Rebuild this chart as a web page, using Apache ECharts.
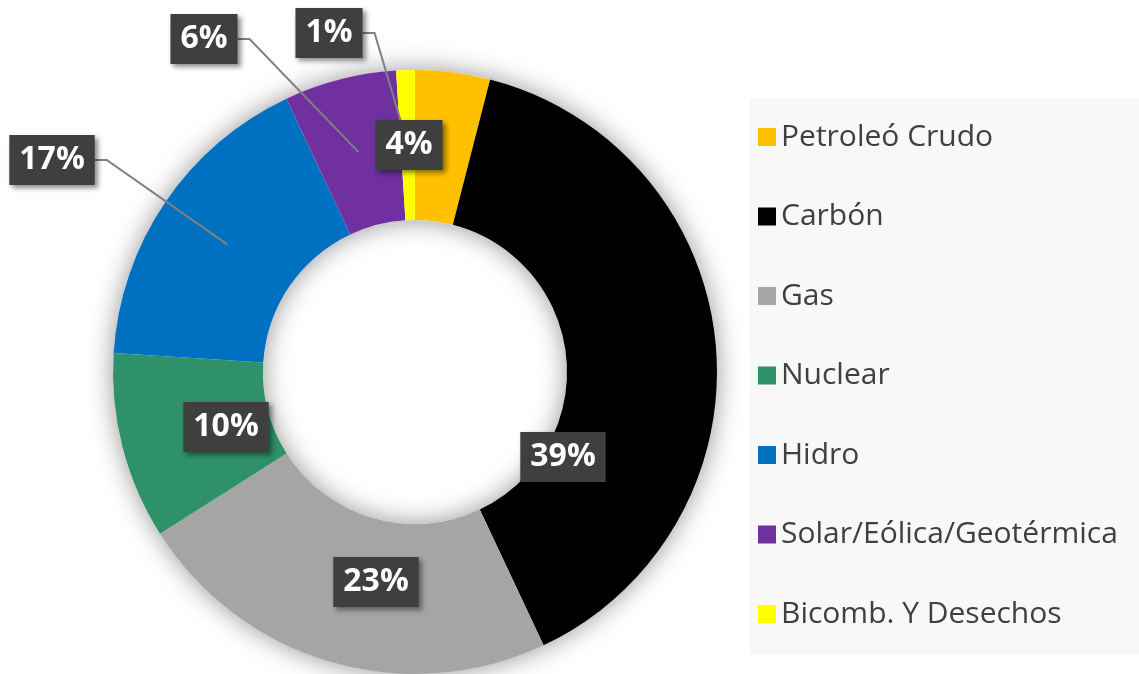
<!DOCTYPE html>
<html>
<head>
<meta charset="utf-8">
<script src="https://cdn.jsdelivr.net/npm/echarts@6/dist/echarts.min.js"></script>
<style>
    html, body { margin: 0; padding: 0; background: #fff; }
    #myEchartNode { width: 1139px; height: 674px; }
</style>
</head>
<body>
<div id="myEchartNode"></div>
<script>
; (function () {

    // categories and shares (%)
    var fuentes = ['Petroleó Crudo', 'Carbón', 'Gas', 'Nuclear', 'Hidro', 'Solar/Eólica/Geotérmica', 'Bicomb. Y Desechos'];
    var valores = [4, 39, 23, 10, 17, 6, 1];

    var colores = ['#FFC000', '#000000', '#A5A5A5', '#2E9169', '#0070C0', '#7030A0', '#FFFF00'];

    // donut geometry
    var CX = 415, CY = 372, R0 = 152, R1 = 302;

    // where each label box sits (center) and which ones get a leader line
    var labelSpots = [
        [409, 145], [563, 457], [376, 582], [226, 427], [52, 160], [204, 39], [329, 33]
    ];
    var conLinea = [false, false, false, false, true, true, true];

    var myEchartObj = echarts.init(document.getElementById('myEchartNode'));
    var option = {
        backgroundColor: '#fff',
        animation: false,
        graphic: [{
            type: 'rect',
            left: 749,
            top: 98,
            z: -10,
            shape: { width: 420, height: 557 },
            style: { fill: '#f8f8f8' }
        }],
        legend: {
            data: fuentes,
            orient: 'vertical',
            left: 758,
            top: 122,
            icon: 'rect',
            itemWidth: 18,
            itemHeight: 18,
            itemGap: 49.5,
            padding: 0,
            textStyle: {
                color: '#404040',
                fontFamily: 'Open Sans',
                fontSize: 30,
                lineHeight: 30
            }
        },
        series: [
            {
                name: 'Fuentes',
                type: 'pie',
                z: 2,
                center: [CX, CY],
                radius: [R0, R1],
                startAngle: 90,
                clockwise: true,
                emphasis: { disabled: true },
                itemStyle: { borderWidth: 0 },
                label: { show: false },
                labelLine: { show: false },
                data: fuentes.map(function (n, i) {
                    return { name: n, value: valores[i], itemStyle: { color: colores[i] } };
                })
            },
            {
                // soft shadow under the ring
                type: 'pie',
                silent: true,
                z: 1,
                center: [CX, CY],
                radius: [R0, R1],
                label: { show: false },
                labelLine: { show: false },
                emphasis: { disabled: true },
                itemStyle: {
                    color: '#ffffff',
                    shadowBlur: 26,
                    shadowColor: 'rgba(0,0,0,0.42)'
                },
                data: [{ value: 1, name: '' }]
            },
            {
                // same slices, transparent, carrying the labels and leader lines on top
                type: 'pie',
                silent: true,
                z: 3,
                center: [CX, CY],
                radius: [R0, R1],
                startAngle: 90,
                clockwise: true,
                avoidLabelOverlap: false,
                emphasis: { disabled: true },
                itemStyle: { color: 'rgba(0,0,0,0)', borderWidth: 0 },
                label: {
                    show: true,
                    formatter: function (p) {
                        return Math.round(p.percent) + '%';
                    },
                    color: '#fff',
                    fontFamily: 'Open Sans',
                    fontWeight: 'bold',
                    fontSize: 32,
                    lineHeight: 32,
                    backgroundColor: '#3f3f3f',
                    padding: [9, 10],
                    shadowColor: 'rgba(0,0,0,0.45)',
                    shadowBlur: 5,
                    shadowOffsetX: 3,
                    shadowOffsetY: 3
                },
                labelLine: {
                    lineStyle: { color: '#808080', width: 2 }
                },
                labelLayout: function (params) {
                    var i = params.dataIndex;
                    var s = labelSpots[i];
                    var res = { x: s[0], y: s[1], align: 'center', verticalAlign: 'middle' };
                    if (conLinea[i] && params.labelLinePoints) {
                        var p0 = params.labelLinePoints[0];
                        var k = (R0 + R1) / 2 / Math.sqrt((p0[0] - CX) * (p0[0] - CX) + (p0[1] - CY) * (p0[1] - CY));
                        var end = [CX + (p0[0] - CX) * k, CY + (p0[1] - CY) * k];
                        var startX = s[0] + params.labelRect.width / 2;
                        res.labelLinePoints = [end, [startX + 12, s[1]], [startX, s[1]]];
                    }
                    return res;
                },
                data: fuentes.map(function (n, i) {
                    return {
                        name: n,
                        value: valores[i],
                        label: { position: conLinea[i] ? 'outside' : 'inside' },
                        labelLine: { show: conLinea[i] }
                    };
                })
            }
        ]
    };

    myEchartObj.setOption(option);
})();
</script>
</body>
</html>
